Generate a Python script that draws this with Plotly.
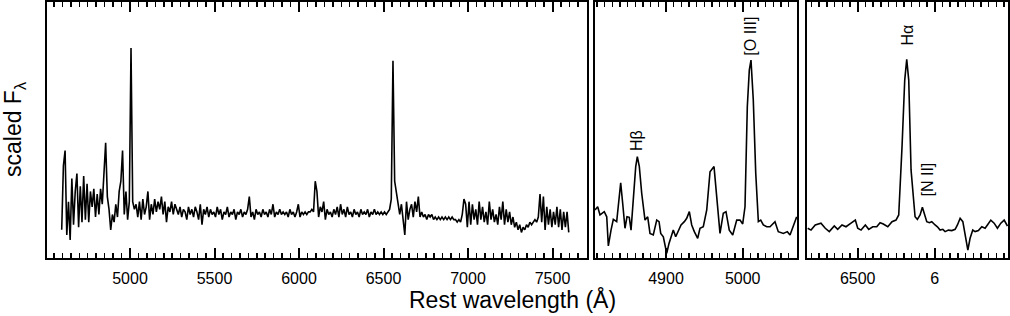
import numpy as np
import plotly.graph_objects as go

# ---------------- data ----------------
# Panel 1: full rest-frame spectrum (10 A sampling starting at 4596 A)
lam1_start = 4596
lam1_step = 10
flux1 = [
    0.11, 0.36, 0.42, 0.09, 0.22, 0.07, 0.31, 0.13, 0.26, 0.33,
    0.12, 0.28, 0.14, 0.32, 0.15, 0.29, 0.14, 0.26, 0.20, 0.27,
    0.16, 0.25, 0.17, 0.27, 0.21, 0.35, 0.45, 0.24, 0.19, 0.11,
    0.17, 0.14, 0.21, 0.16, 0.26, 0.30, 0.42, 0.17, 0.26, 0.15,
    0.22, 0.82, 0.22, 0.19, 0.21, 0.16, 0.22, 0.15, 0.23, 0.17,
    0.20, 0.26, 0.15, 0.21, 0.17, 0.23, 0.18, 0.22, 0.19, 0.24,
    0.17, 0.22, 0.14, 0.20, 0.18, 0.22, 0.17, 0.21, 0.19, 0.17,
    0.20, 0.16, 0.19, 0.18, 0.15, 0.20, 0.17, 0.19, 0.16, 0.20,
    0.18, 0.15, 0.21, 0.13, 0.19, 0.17, 0.20, 0.16, 0.19, 0.17,
    0.18, 0.16, 0.20, 0.17, 0.19, 0.15, 0.18, 0.17, 0.20, 0.16,
    0.18, 0.17, 0.19, 0.15, 0.18, 0.17, 0.19, 0.16, 0.18, 0.17,
    0.19, 0.24, 0.16, 0.18, 0.15, 0.19, 0.17, 0.18, 0.16, 0.19,
    0.17, 0.18, 0.16, 0.19, 0.17, 0.21, 0.16, 0.18, 0.17, 0.19,
    0.17, 0.18, 0.17, 0.18, 0.16, 0.19, 0.17, 0.18, 0.16, 0.18,
    0.21, 0.16, 0.18, 0.17, 0.18, 0.17, 0.18, 0.18, 0.19, 0.18,
    0.30, 0.26, 0.16, 0.20, 0.18, 0.22, 0.15, 0.19, 0.17, 0.18,
    0.16, 0.19, 0.17, 0.20, 0.16, 0.21, 0.17, 0.19, 0.16, 0.20,
    0.17, 0.18, 0.16, 0.19, 0.17, 0.18, 0.16, 0.19, 0.17, 0.18,
    0.17, 0.19, 0.16, 0.18, 0.17, 0.19, 0.17, 0.18, 0.17, 0.18,
    0.17, 0.18, 0.17, 0.18, 0.19, 0.23, 0.77, 0.30, 0.25, 0.20,
    0.17, 0.21, 0.15, 0.09, 0.22, 0.15, 0.19, 0.21, 0.16, 0.22,
    0.18, 0.24, 0.16, 0.18, 0.16, 0.17, 0.15, 0.17, 0.16, 0.17,
    0.15, 0.16, 0.15, 0.16, 0.15, 0.16, 0.15, 0.16, 0.15, 0.16,
    0.15, 0.16, 0.15, 0.15, 0.14, 0.15, 0.14, 0.17, 0.23, 0.21,
    0.12, 0.22, 0.13, 0.21, 0.15, 0.19, 0.13, 0.22, 0.15, 0.20,
    0.14, 0.18, 0.13, 0.22, 0.15, 0.19, 0.14, 0.17, 0.13, 0.20,
    0.15, 0.22, 0.13, 0.19, 0.14, 0.18, 0.13, 0.16, 0.12, 0.14,
    0.11, 0.13, 0.10, 0.12, 0.11, 0.13, 0.12, 0.14, 0.13, 0.14,
    0.15, 0.14, 0.16, 0.25, 0.14, 0.24, 0.11, 0.20, 0.13, 0.19,
    0.12, 0.18, 0.13, 0.20, 0.12, 0.19, 0.11, 0.18, 0.12, 0.18,
    0.10,
]
lam1 = lam1_start + lam1_step * np.arange(len(flux1))

# Panel 2: H-beta / [O III] zoom
lam2 = [4807.4, 4810.9, 4813.9, 4816.9, 4819.5, 4822.7, 4824.8, 4828.3, 4831.3, 4835.7,
        4840.9, 4843.5, 4846.5, 4849.1, 4852.1, 4854.4, 4857.4, 4860.5, 4862.6, 4865.2,
        4868.3, 4872.6, 4876.1, 4879.1, 4883.4, 4887.9, 4890.9, 4893.1, 4896.5, 4899.6,
        4900.9, 4903.9, 4909.5, 4912.6, 4916.0, 4919.6, 4923.9, 4927.0, 4930.4, 4933.5,
        4936.9, 4941.3, 4944.3, 4948.6, 4953.1, 4957.4, 4962.6, 4966.1, 4970.4, 4974.7,
        4978.2, 4982.5, 4987.0, 4992.2, 4996.5, 5000.0, 5003.0, 5006.0, 5008.6, 5010.8,
        5013.8, 5017.0, 5020.4, 5023.5, 5026.9, 5031.3, 5035.6, 5042.1, 5046.4, 5053.0,
        5058.2, 5061.7, 5066.0, 5070.4]
flux2 = [0.188, 0.200, 0.168, 0.175, 0.181, 0.161, 0.047, 0.109, 0.151, 0.142,
         0.294, 0.214, 0.116, 0.161, 0.159, 0.109, 0.239, 0.357, 0.396, 0.357,
         0.253, 0.148, 0.161, 0.096, 0.090, 0.148, 0.142, 0.096, 0.083, 0.044,
         0.018, 0.057, 0.109, 0.083, 0.103, 0.129, 0.142, 0.155, 0.181, 0.129,
         0.103, 0.077, 0.116, 0.122, 0.188, 0.337, 0.357, 0.239, 0.096, 0.175,
         0.181, 0.109, 0.090, 0.148, 0.148, 0.133, 0.200, 0.591, 0.734, 0.773,
         0.617, 0.331, 0.142, 0.148, 0.129, 0.122, 0.122, 0.142, 0.103, 0.096,
         0.103, 0.090, 0.122, 0.161]

# Panel 3: H-alpha / [N II] zoom
lam3 = [6435.1, 6439.4, 6444.9, 6452.3, 6457.9, 6463.1, 6469.6, 6474.0, 6479.6, 6484.8,
        6491.3, 6496.9, 6500.0, 6504.3, 6509.9, 6514.3, 6519.5, 6524.7, 6529.0, 6533.2,
        6539.0, 6544.5, 6549.7, 6553.2, 6557.5, 6561.0, 6563.6, 6566.2, 6569.2, 6572.2,
        6574.4, 6577.4, 6580.9, 6583.9, 6586.5, 6589.6, 6593.0, 6596.1, 6600.4, 6603.4,
        6606.9, 6610.4, 6613.4, 6617.7, 6622.1, 6626.4, 6629.4, 6632.9, 6636.4, 6639.4,
        6642.9, 6645.8, 6649.3, 6652.3, 6656.6, 6661.0, 6665.3, 6668.3, 6672.7, 6677.0,
        6681.3, 6685.7, 6690.0, 6694.3]
flux3 = [0.116, 0.109, 0.129, 0.136, 0.116, 0.103, 0.125, 0.112, 0.129, 0.122,
         0.136, 0.148, 0.116, 0.109, 0.129, 0.112, 0.122, 0.122, 0.138, 0.133,
         0.122, 0.142, 0.148, 0.168, 0.435, 0.695, 0.776, 0.695, 0.344, 0.227,
         0.161, 0.151, 0.168, 0.198, 0.168, 0.142, 0.138, 0.142, 0.129, 0.122,
         0.109, 0.112, 0.103, 0.109, 0.107, 0.112, 0.129, 0.155, 0.142, 0.096,
         0.031, 0.077, 0.109, 0.103, 0.107, 0.122, 0.116, 0.129, 0.148, 0.136,
         0.116, 0.136, 0.148, 0.125]

panel1_ticks = [5000, 5500, 6000, 6500, 7000, 7500]
panel1_ticktext = ["5000", "5500", "6000", "6500", "7000", "7500"]
panel2_ticks = [4900, 5000]
panel2_ticktext = ["4900", "5000"]
panel3_ticks = [6500, 6600]
panel3_ticktext = ["6500", "6"]

line_labels = ["Hβ", "[O III]", "Hα", "[N II]"]
line_label_x = [4861.0, 5009.0, 6563.4, 6590.0]
line_label_y = [0.457, 0.867, 0.871, 0.307]
line_label_axis = ["2", "2", "3", "3"]

# ---------------- figure ----------------
W, H = 1010, 316
FONT = "Liberation Sans, Arial, Helvetica, sans-serif"

fig = go.Figure()
lw = 1.6
fig.add_trace(go.Scatter(x=lam1, y=flux1, mode="lines", line=dict(color="black", width=lw),
                         xaxis="x", yaxis="y", showlegend=False, hoverinfo="skip"))
fig.add_trace(go.Scatter(x=lam2, y=flux2, mode="lines", line=dict(color="black", width=lw),
                         xaxis="x2", yaxis="y2", showlegend=False, hoverinfo="skip"))
fig.add_trace(go.Scatter(x=lam3, y=flux3, mode="lines", line=dict(color="black", width=lw),
                         xaxis="x3", yaxis="y3", showlegend=False, hoverinfo="skip"))

ydom = [1 - 258 / H, 1 - 2 / H]


def xax(domain, rng, tickvals, ticktext, anchor, minor_dtick):
    return dict(
        domain=domain, range=rng, anchor=anchor,
        showline=True, linecolor="black", linewidth=2, mirror="ticks",
        ticks="inside", ticklen=10, tickwidth=2, tickcolor="black",
        tickvals=tickvals, ticktext=ticktext, ticklabelstandoff=5,
        tickfont=dict(family=FONT, size=16, color="black"),
        showgrid=False, zeroline=False,
        minor=dict(ticks="inside", dtick=minor_dtick, tick0=0, ticklen=5, tickwidth=1.5,
                   tickcolor="black", showgrid=False),
    )


def yax(anchor):
    return dict(domain=ydom, range=[0, 1], anchor=anchor,
                showline=True, linecolor="black", linewidth=2, mirror=True,
                ticks="", showticklabels=False, showgrid=False, zeroline=False)


xa1 = xax([46.5 / W, 587 / W], [4506, 7704], panel1_ticks, panel1_ticktext, "y", 50)
xa2 = xax([595 / W, 797 / W], [4807.4, 5070.8], panel2_ticks, panel2_ticktext, "y2", 10)
xa3 = xax([806.7 / W, 1008 / W], [6433.8, 6695.0], panel3_ticks, panel3_ticktext, "y3", 10)

annotations = [
    dict(text="Rest wavelength (Å)", xref="paper", yref="paper", x=512 / W, y=1 - 299 / H,
         xanchor="center", yanchor="middle", showarrow=False,
         font=dict(family=FONT, size=23, color="black")),
    dict(text="scaled F<sub>λ</sub>", xref="paper", yref="paper", x=14 / W, y=1 - 130 / H,
         xanchor="center", yanchor="middle", showarrow=False, textangle=-90,
         font=dict(family=FONT, size=23, color="black")),
]
for t, x, y, a in zip(line_labels, line_label_x, line_label_y, line_label_axis):
    annotations.append(dict(text=t, xref="x" + a, yref="y" + a, x=x, y=y,
                            xanchor="center", yanchor="middle", showarrow=False,
                            textangle=-90, font=dict(family=FONT, size=16, color="black")))

fig.update_layout(
    width=W, height=H, margin=dict(l=0, r=0, t=0, b=0),
    paper_bgcolor="white", plot_bgcolor="white",
    xaxis=xa1, xaxis2=xa2, xaxis3=xa3,
    yaxis=yax("x"), yaxis2=yax("x2"), yaxis3=yax("x3"),
    annotations=annotations, showlegend=False, hovermode=False,
    font=dict(family=FONT, color="black"),
)

fig.write_html("out.html", config={"displayModeBar": False, "staticPlot": True},
               post_script="document.body.style.margin='0px';document.body.style.overflow='hidden';")
